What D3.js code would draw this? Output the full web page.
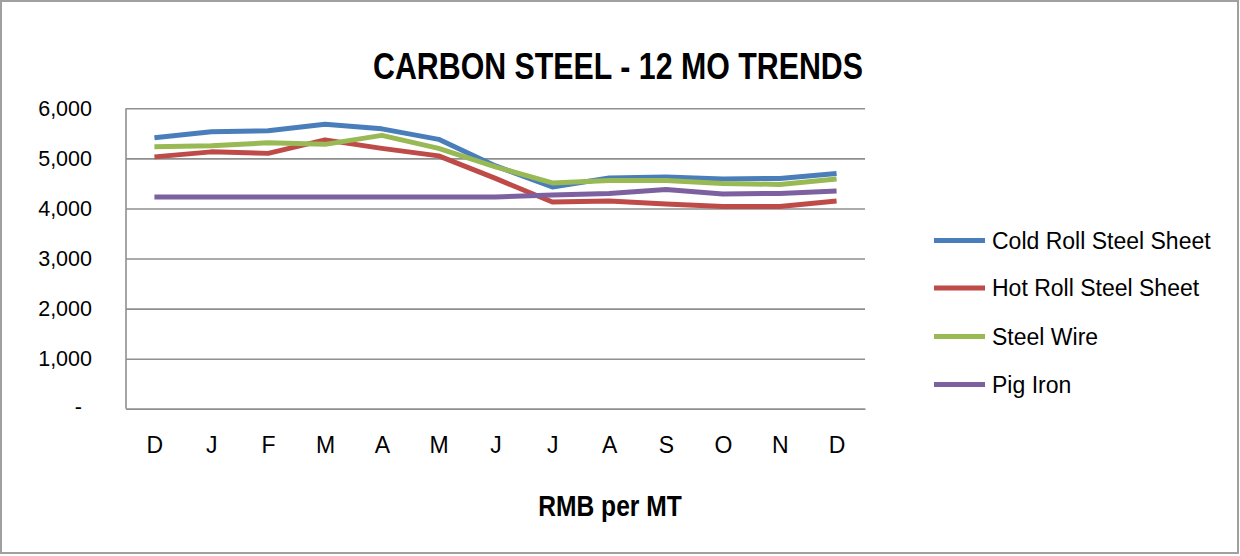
<!DOCTYPE html>
<html>
<head>
<meta charset="utf-8">
<script src="https://cdn.jsdelivr.net/npm/d3@7"></script>
<style>
  html, body { margin: 0; padding: 0; background: #fff; }
  svg { display: block; }
  text { font-family: "Liberation Sans", Arial, sans-serif; fill: #000; }
</style>
</head>
<body>
<svg id="chart" width="1240" height="556"></svg>
<script>
const months = ["D", "J", "F", "M", "A", "M", "J", "J", "A", "S", "O", "N", "D"];
const seriesNames = ["Cold Roll Steel Sheet", "Hot Roll Steel Sheet", "Steel Wire", "Pig Iron"];
const coldRoll = [5410, 5530, 5550, 5680, 5590, 5380, 4850, 4430, 4610, 4630, 4590, 4600, 4700];
const hotRoll  = [5030, 5130, 5100, 5370, 5200, 5050, 4600, 4130, 4150, 4090, 4040, 4040, 4150];
const steelWire = [5230, 5250, 5310, 5280, 5460, 5200, 4830, 4510, 4560, 4560, 4500, 4480, 4590];
const pigIron  = [4230, 4230, 4230, 4230, 4230, 4230, 4230, 4270, 4300, 4380, 4290, 4300, 4350];
const yTicks = [0, 1000, 2000, 3000, 4000, 5000, 6000];
const seriesColors = ["#4A7EBB", "#BE4B48", "#98B954", "#7D60A0"];
const titleText = "CARBON STEEL - 12 MO TRENDS";
const axisTitleText = "RMB per MT";

const seriesValues = [coldRoll, hotRoll, steelWire, pigIron];

const svg = d3.select("#chart");

// outer border
svg.append("rect")
  .attr("x", 1).attr("y", 1).attr("width", 1237).attr("height", 552)
  .attr("fill", "#fff").attr("stroke", "#a0a0a0").attr("stroke-width", 2);

const plot = { left: 126, right: 865, top: 108.3, bottom: 408.8 };

const x = d3.scalePoint()
  .domain(d3.range(months.length))
  .range([plot.left, plot.right])
  .padding(0.5);

const y = d3.scaleLinear()
  .domain([0, 6000])
  .range([plot.bottom, plot.top]);

// y axis with gridlines
const yAxis = d3.axisLeft(y)
  .tickValues(yTicks)
  .tickSize(-(plot.right - plot.left))
  .tickPadding(34)
  .tickFormat(d => d === 0 ? "-" : d3.format(",")(d));

const gy = svg.append("g")
  .attr("transform", `translate(${plot.left},0)`)
  .call(yAxis);
gy.select(".domain").remove();
gy.selectAll(".tick line")
  .attr("stroke", "#8f8f8f").attr("stroke-width", 1.6);
gy.selectAll(".tick text")
  .style("font-family", "'Liberation Sans', Arial, sans-serif")
  .style("font-size", "21.5px")
  .attr("fill", "#000");
gy.selectAll(".tick").filter(d => d === 0).select("text").attr("x", -44).attr("dy", "0.22em");

// vertical axis line
svg.append("line")
  .attr("x1", plot.left).attr("x2", plot.left)
  .attr("y1", plot.top).attr("y2", plot.bottom)
  .attr("stroke", "#8f8f8f").attr("stroke-width", 1.6);

// x axis
const xAxis = d3.axisBottom(x)
  .tickSize(0)
  .tickPadding(28)
  .tickFormat(i => months[i]);
const gx = svg.append("g")
  .attr("transform", `translate(0,${plot.bottom})`)
  .call(xAxis);
gx.select(".domain")
  .attr("stroke", "#8f8f8f").attr("stroke-width", 1.6);
gx.selectAll(".tick text")
  .style("font-family", "'Liberation Sans', Arial, sans-serif")
  .style("font-size", "23px")
  .attr("fill", "#000");

// lines
const line = d3.line()
  .x((d, i) => x(i))
  .y(d => y(d));

seriesValues.forEach((vals, k) => {
  svg.append("path")
    .datum(vals)
    .attr("d", line)
    .attr("fill", "none")
    .attr("stroke", seriesColors[k])
    .attr("stroke-width", 5)
    .attr("stroke-linejoin", "round");
});

// legend
const legend = svg.append("g");
const legendY = [240.5, 288, 336.5, 384.5];
seriesNames.forEach((name, k) => {
  legend.append("line")
    .attr("x1", 934).attr("x2", 985)
    .attr("y1", legendY[k]).attr("y2", legendY[k])
    .attr("stroke", seriesColors[k]).attr("stroke-width", 5);
  legend.append("text")
    .attr("x", 992).attr("y", legendY[k] + 8)
    .style("font-size", "23px")
    .text(name);
});

// title
svg.append("text")
  .attr("transform", "translate(618,79) scale(0.82,1)")
  .attr("text-anchor", "middle")
  .style("font-size", "37px")
  .style("font-weight", "bold")
  .text(titleText);

// axis title
svg.append("text")
  .attr("transform", "translate(610,516) scale(0.82,1)")
  .attr("text-anchor", "middle")
  .style("font-size", "30px")
  .style("font-weight", "bold")
  .text(axisTitleText);
</script>
</body>
</html>
